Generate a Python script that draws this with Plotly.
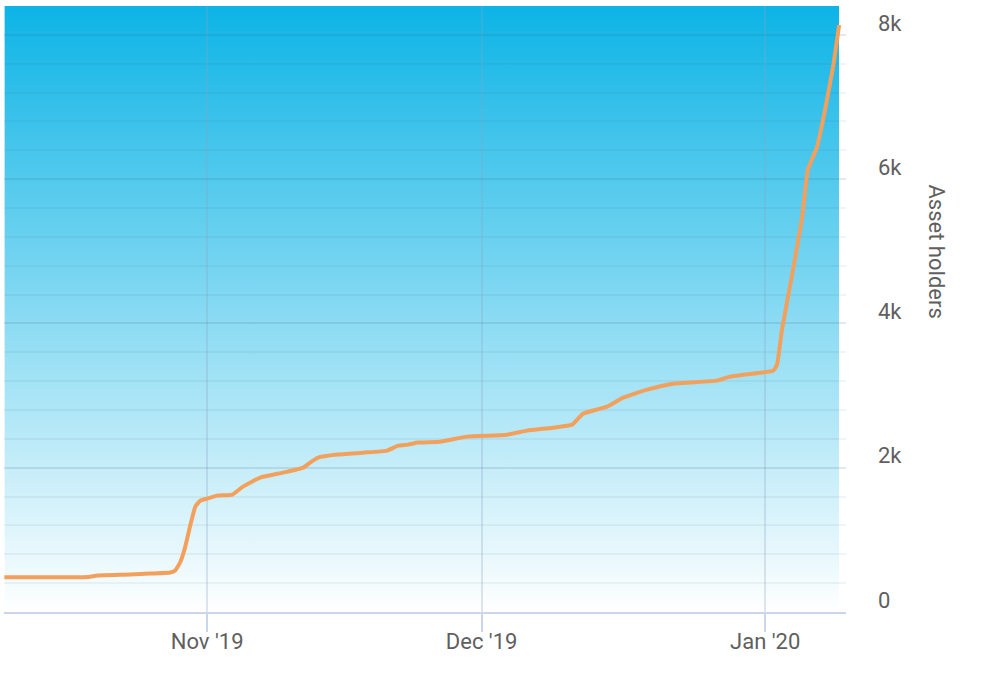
"""Asset holders over time, line on a vertical blue gradient."""

import base64

import pandas as pd
import plotly.graph_objects as go

# --- data ---
dates = [
    "2019-10-09 20:00", "2019-10-14 20:00", "2019-10-19 00:00", "2019-10-20 00:00",
    "2019-10-23 14:00", "2019-10-25 18:00", "2019-10-27 23:00", "2019-10-28 12:00",
    "2019-10-29 01:00", "2019-10-29 14:00", "2019-10-30 03:00", "2019-10-30 17:00",
    "2019-10-31 06:00", "2019-11-01 00:00", "2019-11-02 02:00", "2019-11-03 18:00",
    "2019-11-04 22:00", "2019-11-06 19:00", "2019-11-09 07:00", "2019-11-11 12:00",
    "2019-11-12 06:00", "2019-11-13 03:00", "2019-11-15 05:00", "2019-11-18 01:00",
    "2019-11-20 16:00", "2019-11-21 21:00", "2019-11-22 23:00", "2019-11-24 01:00",
    "2019-11-26 11:00", "2019-11-29 10:00", "2019-12-03 19:00", "2019-12-05 23:00",
    "2019-12-08 19:00", "2019-12-10 21:00", "2019-12-12 02:00", "2019-12-14 17:00",
    "2019-12-16 11:00", "2019-12-19 02:00", "2019-12-21 22:00", "2019-12-26 18:00",
    "2019-12-28 04:00", "2019-12-31 11:00", "2020-01-01 21:00", "2020-01-02 07:00",
    "2020-01-02 20:00", "2020-01-04 01:00", "2020-01-05 01:00", "2020-01-05 16:00",
    "2020-01-06 16:00", "2020-01-07 13:00", "2020-01-08 10:00", "2020-01-09 02:00",
]
holders = [
    480, 480, 485, 505,
    519, 533, 547, 575,
    686, 893, 1184, 1461,
    1544, 1572, 1613, 1627,
    1738, 1863, 1932, 2001,
    2071, 2140, 2182, 2209,
    2237, 2306, 2320, 2348,
    2361, 2431, 2458, 2514,
    2555, 2597, 2749, 2846,
    2971, 3082, 3165, 3207,
    3262, 3317, 3345, 3428,
    3913, 4744, 5478, 6129,
    6447, 6960, 7555, 8137,
]
x_range = ["2019-10-09 19:00", "2020-01-09 20:00"]
y_max = 8400

FONT = "Roboto, sans-serif"
TEXT = "#5f5f5f"

# gradient background as an svg image stretched over the data extent
svg = (
    '<svg xmlns="http://www.w3.org/2000/svg" viewBox="0 0 1 1" preserveAspectRatio="none">'
    '<defs><linearGradient id="g" x1="0" y1="0" x2="0" y2="1">'
    '<stop offset="0" stop-color="#0db4e6"/><stop offset="1" stop-color="#ffffff"/>'
    '</linearGradient></defs><rect width="1" height="1" fill="url(#g)"/></svg>'
)
svg_uri = "data:image/svg+xml;base64," + base64.b64encode(svg.encode()).decode()

t = pd.to_datetime(dates)
span_ms = (t[-1] - t[0]).total_seconds() * 1000

fig = go.Figure()
fig.add_trace(go.Scatter(
    x=dates,
    y=holders,
    mode="lines",
    line=dict(color="#f3a05c", width=4, shape="spline", smoothing=0.4),
    hovertemplate="%{x}<br>%{y}<extra></extra>",
    showlegend=False,
))

fig.add_layout_image(dict(
    source=svg_uri,
    xref="x", yref="y",
    x=dates[0], y=y_max,
    sizex=span_ms, sizey=y_max,
    xanchor="left", yanchor="top",
    sizing="stretch",
    layer="below",
))

fig.update_layout(
    width=995,
    height=687,
    margin=dict(l=4, r=149, t=6, b=75),
    paper_bgcolor="white",
    plot_bgcolor="rgba(0,0,0,0)",
    font=dict(family=FONT, size=22, color=TEXT),
    xaxis=dict(
        type="date",
        range=x_range,
        tick0="2019-11-01",
        dtick="M1",
        tickformat="%b '%y",
        showgrid=True,
        gridcolor="rgba(140,160,195,0.28)",
        gridwidth=2,
        showline=True,
        linecolor="#ccd6eb",
        linewidth=2,
        ticks="outside",
        ticklen=18,
        tickwidth=2,
        tickcolor="#ccd6eb",
        zeroline=False,
        ticklabelstandoff=-9,
        tickfont=dict(size=22, color=TEXT),
    ),
    yaxis=dict(
        side="right",
        range=[0, y_max],
        dtick=2000,
        tickformat="~s",
        showgrid=True,
        gridcolor="rgba(60,100,130,0.15)",
        gridwidth=2,
        minor=dict(dtick=400, showgrid=True, gridcolor="rgba(60,100,130,0.07)", gridwidth=2),
        zeroline=False,
        showline=False,
        ticks="",
        ticklabelstandoff=31,
        ticklabelshift=-12,
        tickfont=dict(size=22, color=TEXT),
    ),
    annotations=[dict(
        text="Asset holders",
        xref="paper", yref="paper",
        x=1.108, y=0.595,
        xanchor="center", yanchor="middle",
        showarrow=False,
        textangle=90,
        font=dict(family=FONT, size=22, color=TEXT),
    )],
)

# page body has a default 8px margin; drop it so the chart sits at the corner
fig.write_html(
    "out.html",
    config={"displayModeBar": False},
    post_script="document.body.style.margin='0';",
)
